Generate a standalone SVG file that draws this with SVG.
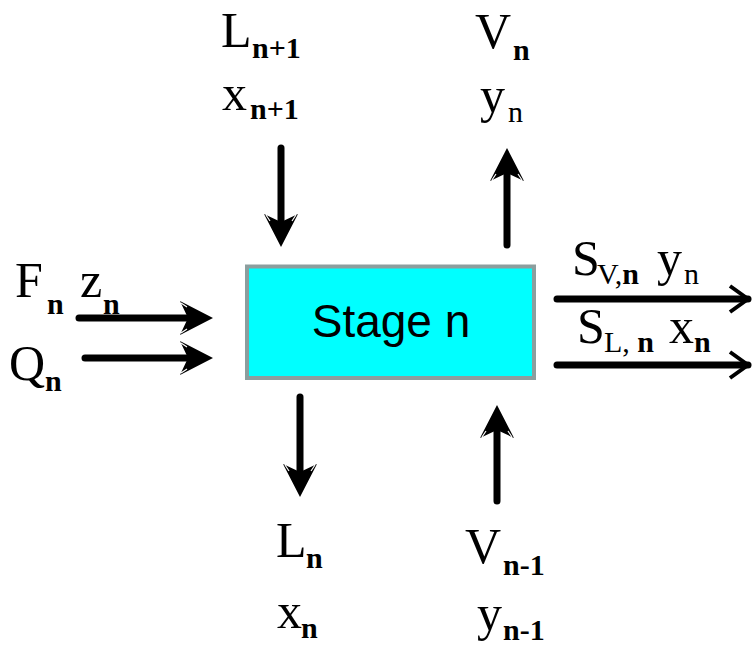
<svg xmlns="http://www.w3.org/2000/svg" width="752" height="645" viewBox="0 0 752 645">
<style>
.m{font-family:"Liberation Serif","Times New Roman",serif;font-size:50px;fill:#000}
.s{font-family:"Liberation Serif","Times New Roman",serif;font-size:30px;fill:#000}
.b{font-weight:bold}
.ln{stroke:#000;stroke-width:7;fill:none;stroke-linecap:round}
</style>
<defs>
<marker id="inh" markerUnits="userSpaceOnUse" viewBox="-40 -20 60 40" refX="0" refY="0" markerWidth="60" markerHeight="40" orient="auto" overflow="visible">
<path d="M12,0 L-21,-17 L-13,0 L-21,17 Z" fill="#000"/>
<path d="M-20,-15 L-14,-11 M-20,15 L-14,11" stroke="#fff" stroke-width="1.2"/>
</marker>
<marker id="outh" markerUnits="userSpaceOnUse" viewBox="-30 -20 40 40" refX="0" refY="0" markerWidth="40" markerHeight="40" orient="auto" overflow="visible">
<path d="M-18,-13 L0,0 L-18,13" stroke="#000" stroke-width="4" fill="none"/>
</marker>
</defs>
<rect width="752" height="645" fill="#fff"/>
<g id="connectors">
<line class="ln" x1="281" y1="148" x2="281" y2="235" marker-end="url(#inh)"/>
<line class="ln" x1="507" y1="245" x2="507" y2="160" marker-end="url(#inh)"/>
<line class="ln" x1="79" y1="318" x2="201" y2="318" marker-end="url(#inh)"/>
<line class="ln" x1="85" y1="358" x2="201" y2="358" marker-end="url(#inh)"/>
<line class="ln" x1="300" y1="397" x2="300" y2="485" marker-end="url(#inh)"/>
<line class="ln" x1="497" y1="501" x2="497" y2="417" marker-end="url(#inh)"/>
<line class="ln" x1="557" y1="299" x2="748" y2="299" marker-end="url(#outh)"/>
<line class="ln" x1="557" y1="365" x2="748" y2="365" marker-end="url(#outh)"/>
</g>
<g id="stage">
<rect x="247" y="266.5" width="287" height="111.5" fill="#00FFFF" stroke="#8C9E9E" stroke-width="4"/>
<text x="391" y="337" text-anchor="middle" font-family="'Liberation Sans',Arial,sans-serif" font-size="46" fill="#000">Stage n</text>
</g>
<g id="L_in">
<text class="m" x="221" y="47">L</text><text class="s b" x="252" y="58">n+1</text>
<text class="m" x="222" y="110">x</text><text class="s b" x="250" y="119">n+1</text>
</g>
<g id="V_out">
<text class="m" x="475" y="48">V</text><text class="s b" x="513" y="60">n</text>
<text class="m" x="480" y="112">y</text><text class="s" x="508" y="122">n</text>
</g>
<g id="F_in">
<text class="m" x="15" y="297">F</text><text class="s b" x="47" y="314">n</text>
<text class="m" x="80" y="297">z</text><text class="s b" x="103" y="314">n</text>
</g>
<g id="Q_in">
<text class="m" x="9" y="380">Q</text><text class="s b" x="45" y="391">n</text>
</g>
<g id="SV_out">
<text class="m" x="572" y="275">S</text><text class="s" x="597" y="284">V,<tspan class="b">n</tspan></text>
<text class="m" x="657" y="275">y</text><text class="s" x="684" y="284">n</text>
</g>
<g id="SL_out">
<text class="m" x="577" y="343">S</text><text class="s" x="604" y="352">L, <tspan class="b">n</tspan></text>
<text class="m" x="669" y="343">x</text><text class="s b" x="694" y="352">n</text>
</g>
<g id="L_out">
<text class="m" x="276" y="557">L</text><text class="s b" x="306" y="568">n</text>
<text class="m" x="277" y="628">x</text><text class="s b" x="301" y="638">n</text>
</g>
<g id="V_in">
<text class="m" x="465" y="563">V</text><text class="s b" x="503" y="575">n-1</text>
<text class="m" x="477" y="630">y</text><text class="s b" x="503" y="640">n-1</text>
</g>
</svg>
